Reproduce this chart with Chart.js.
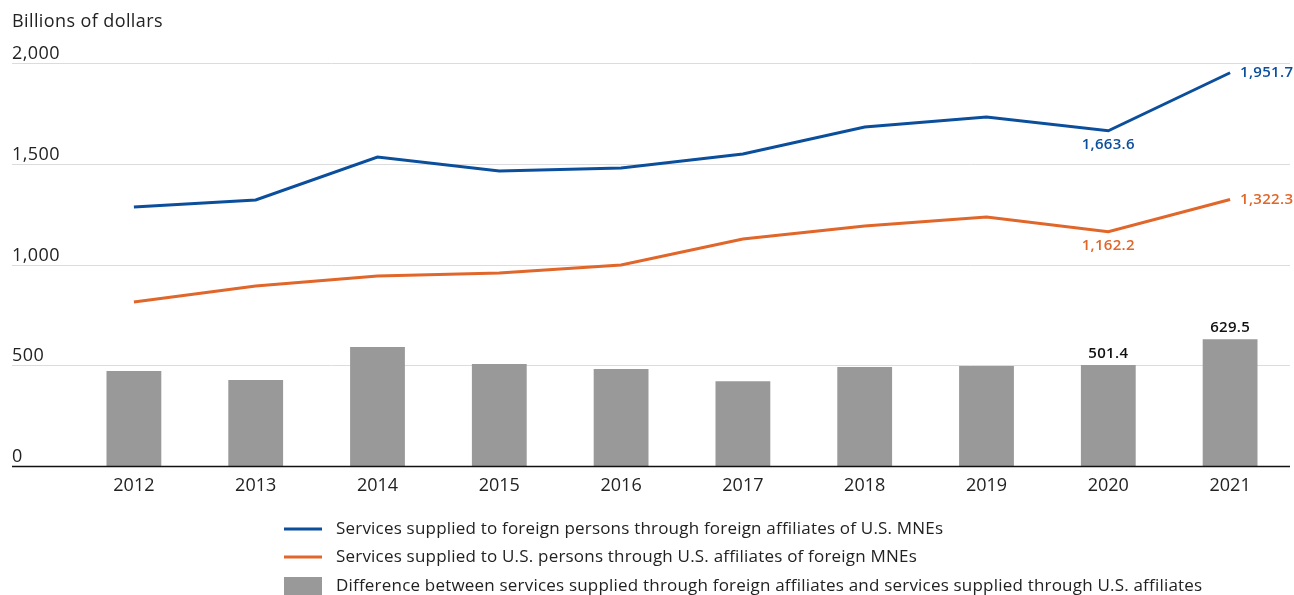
<!DOCTYPE html>
<html lang="en">
<head>
<meta charset="UTF-8">
<title>Services supplied through affiliates</title>
<script src="https://cdn.jsdelivr.net/npm/chart.js@4/dist/chart.umd.min.js"></script>
<style>
  body { margin: 0; background: #fff; }
  #wrap { width: 1294px; height: 595px; position: relative; }
</style>
</head>
<body>
<div id="wrap"><canvas id="chart"></canvas></div>
<script>
const years = ['2012', '2013', '2014', '2015', '2016', '2017', '2018', '2019', '2020', '2021'];
const foreignAffiliates = [1285, 1320, 1533, 1464, 1479, 1548, 1682, 1732, 1663.6, 1951.7];
const usAffiliates = [814, 893, 943, 958, 998, 1127, 1191, 1236, 1162.2, 1322.3];
const difference = [471, 427, 590, 506, 481, 421, 491, 496, 501.4, 629.5];
const yTicks = [0, 500, 1000, 1500, 2000];
const legendLabels = [
  'Services supplied to foreign persons through foreign affiliates of U.S. MNEs',
  'Services supplied to U.S. persons through U.S. affiliates of foreign MNEs',
  'Difference between services supplied through foreign affiliates and services supplied through U.S. affiliates'
];

const BLUE = '#0b4f9c';
const ORANGE = '#e0662a';
const GRAY = '#999999';
const FONT = '"Open Sans", sans-serif';

const fmt = v => v.toLocaleString('en-US', { minimumFractionDigits: 1, maximumFractionDigits: 1 });

// gridlines + y labels drawn across the full width, behind the marks
const gridPlugin = {
  id: 'grid',
  beforeDatasetsDraw(chart) {
    const { ctx, scales: { y } } = chart;
    ctx.save();
    ctx.font = '18px ' + FONT;
    ctx.letterSpacing = '0.4px';
    ctx.fillStyle = '#222';
    ctx.textAlign = 'left';
    ctx.textBaseline = 'bottom';
    yTicks.forEach(v => {
      const py = Math.round(y.getPixelForValue(v)) + 0.5;
      if (v !== 0) {
        ctx.strokeStyle = '#dcdcdc';
        ctx.lineWidth = 1;
        ctx.beginPath();
        ctx.moveTo(12, py);
        ctx.lineTo(1290, py);
        ctx.stroke();
      }
      ctx.fillText(v.toLocaleString('en-US'), 12, py - 1);
    });
    ctx.fillText('Billions of dollars', 12, 31);
    ctx.restore();
  },
  afterDatasetsDraw(chart) {
    const { ctx, scales: { y } } = chart;
    const py = Math.round(y.getPixelForValue(0)) + 0.5;
    ctx.save();
    ctx.strokeStyle = '#111';
    ctx.lineWidth = 1.5;
    ctx.beginPath();
    ctx.moveTo(12, py);
    ctx.lineTo(1290, py);
    ctx.stroke();
    ctx.restore();
  }
};

// value labels for the last two years
const labelPlugin = {
  id: 'valueLabels',
  afterDatasetsDraw(chart) {
    const { ctx } = chart;
    ctx.save();
    ctx.font = '600 15px ' + FONT;
    ctx.letterSpacing = '0.3px';
    const put = (dsIdx, i, pos, color) => {
      const el = chart.getDatasetMeta(dsIdx).data[i];
      const v = chart.data.datasets[dsIdx].data[i];
      ctx.fillStyle = color;
      if (pos === 'right') {
        ctx.textAlign = 'left';
        ctx.textBaseline = 'middle';
        ctx.fillText(fmt(v), el.x + 10, el.y);
      } else if (pos === 'below') {
        ctx.textAlign = 'center';
        ctx.textBaseline = 'top';
        ctx.fillText(fmt(v), el.x, el.y + 6);
      } else {
        ctx.textAlign = 'center';
        ctx.textBaseline = 'bottom';
        ctx.fillText(fmt(v), el.x, el.y - 4);
      }
    };
    put(0, 9, 'right', BLUE);
    put(0, 8, 'below', BLUE);
    put(1, 9, 'right', ORANGE);
    put(1, 8, 'below', ORANGE);
    put(2, 8, 'above', '#111');
    put(2, 9, 'above', '#111');
    ctx.restore();
  }
};

const legendPlugin = {
  id: 'bottomLegend',
  afterDraw(chart) {
    const { ctx } = chart;
    ctx.save();
    ctx.font = '17px ' + FONT;
    ctx.letterSpacing = '0.2px';
    ctx.textAlign = 'left';
    ctx.textBaseline = 'middle';
    const rows = [529, 557, 586];
    ctx.lineWidth = 3;
    [BLUE, ORANGE].forEach((c, i) => {
      ctx.strokeStyle = c;
      ctx.beginPath();
      ctx.moveTo(284, rows[i]);
      ctx.lineTo(322, rows[i]);
      ctx.stroke();
    });
    ctx.fillStyle = GRAY;
    ctx.fillRect(284, 577, 38, 18);
    ctx.fillStyle = '#222';
    legendLabels.forEach((t, i) => ctx.fillText(t, 336, rows[i]));
    ctx.restore();
  }
};

new Chart(document.getElementById('chart'), {
  data: {
    labels: years,
    datasets: [
      { type: 'line', label: legendLabels[0], data: foreignAffiliates, borderColor: BLUE, borderWidth: 3, pointRadius: 0, tension: 0, order: 1 },
      { type: 'line', label: legendLabels[1], data: usAffiliates, borderColor: ORANGE, borderWidth: 3, pointRadius: 0, tension: 0, order: 2 },
      { type: 'bar', label: legendLabels[2], data: difference, backgroundColor: GRAY, barPercentage: 0.45, categoryPercentage: 1, order: 3 }
    ]
  },
  options: {
    responsive: true,
    maintainAspectRatio: false,
    animation: false,
    layout: { padding: { left: 73, right: 3, top: 63, bottom: 0 } },
    plugins: { legend: { display: false }, tooltip: { enabled: false } },
    scales: {
      x: {
        offset: true,
        grid: { display: false, drawTicks: false },
        border: { display: false },
        ticks: { color: '#222', font: { family: FONT, size: 18 }, padding: 9 },
        afterFit: s => { s.height = 129; }
      },
      y: { display: false, min: 0, max: 2000 }
    }
  },
  plugins: [gridPlugin, labelPlugin, legendPlugin]
});
</script>
</body>
</html>
